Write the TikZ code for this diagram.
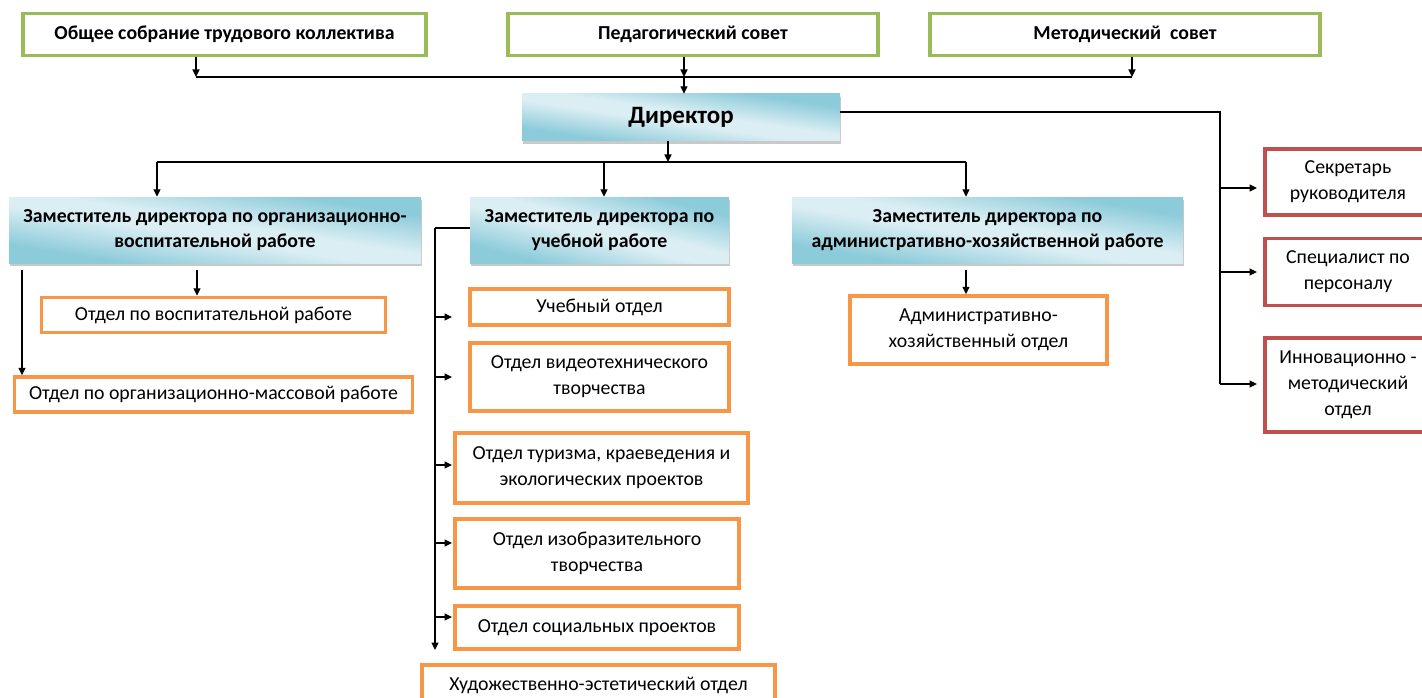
\documentclass[tikz,border=0pt]{standalone}
\usepackage{fontspec}
\setmainfont{Carlito}
\usetikzlibrary{arrows.meta,shadows}
\definecolor{grn}{HTML}{9BBB59}
\definecolor{org}{HTML}{F79646}
\definecolor{rd}{HTML}{C0504D}
\pgfdeclarefunctionalshading{diagshade}{\pgfpoint{-50bp}{-50bp}}{\pgfpoint{50bp}{50bp}}{}{
  add 50 div abs 0.12 sub 0.6 div
  dup abs add 2 div
  dup 1 sub abs neg add 1 add 2 div
  dup dup -0.31 mul 0.86 add exch -0.14 mul 0.935 add 3 -1 roll -0.1 mul 0.955 add
}
\tikzset{
  conn/.style={line width=1.2pt, draw=black},
  arr/.style={conn, -{Triangle[length=7.5pt,width=7pt]}},
  frame/.style={fill=white, line width=3.5pt, align=center, inner sep=0pt},
  gbox/.style={frame, draw=grn, font=\fontsize{19.8}{24}\selectfont\bfseries},
  obox/.style={frame, draw=org, font=\fontsize{19.8}{26}\selectfont},
  rbox/.style={frame, draw=rd, font=\fontsize{19.8}{26}\selectfont},
  dbox/.style={inner sep=0pt, align=center,
    shade, shading=diagshade,
    drop shadow={shadow xshift=1pt, shadow yshift=-3pt, opacity=0.35, fill=black!60},
    font=\fontsize{19.8}{25.5}\selectfont\bfseries},
}
\begin{document}
\begin{tikzpicture}[x=1pt,y=-1pt]
\useasboundingbox (0,0) rectangle (1422,698);
\clip (0,0) rectangle (1422,698);
\fill[white] (0,0) rectangle (1422,698);

% top councils
\node[gbox, minimum width=403, minimum height=42] (g1) at (224.5,34.5) {Общее собрание трудового коллектива};
\node[gbox, minimum width=370, minimum height=42] (g2) at (693,34.5) {Педагогический совет};
\node[gbox, minimum width=390, minimum height=42] (g3) at (1125,34.5) {Методический~ совет};

% director
\node[dbox, minimum width=318, minimum height=47, font=\fontsize{25}{30}\selectfont\bfseries] (dir) at (681,117.5) {Директор};

% deputies
\node[dbox, minimum width=412, minimum height=66] (dep1) at (215,230) {Заместитель директора по организационно-\\воспитательной работе};
\node[dbox, minimum width=259, minimum height=66] (dep2) at (599.5,230) {Заместитель директора по\\учебной работе};
\node[dbox, minimum width=391, minimum height=66] (dep3) at (987.5,230) {Заместитель директора по\\административно-хозяйственной работе};

% left departments
\node[obox, minimum width=344, minimum height=35] (vosp) at (213.5,315) {Отдел по воспитательной работе};
\node[obox, minimum width=398, minimum height=35] (orgm) at (213.5,394.5) {Отдел по организационно-массовой работе};

% middle departments
\node[obox, minimum width=259, minimum height=36] (ucheb) at (599.5,307) {Учебный отдел};
\node[obox, minimum width=259, minimum height=68] (video) at (599.5,377) {Отдел видеотехнического\\творчества};
\node[obox, minimum width=293, minimum height=70] (tur) at (601.5,468) {Отдел туризма, краеведения и\\экологических проектов};
\node[obox, minimum width=284, minimum height=69] (izo) at (597,553.5) {Отдел изобразительного\\творчества};
\node[obox, minimum width=284, minimum height=43] (soc) at (597,627.5) {Отдел социальных проектов};
\node[obox, minimum width=353, minimum height=40] (hud) at (598.5,685) {Художественно-эстетический отдел};

% right department
\node[obox, minimum width=257, minimum height=68] (adm) at (978.5,330) {Административно-\\хозяйственный отдел};

% red boxes
\node[rbox, minimum width=166, minimum height=66] (sec) at (1348,182) {Секретарь\\руководителя};
\node[rbox, minimum width=166, minimum height=67] (spec) at (1348,272) {Специалист по\\персоналу};
\node[rbox, minimum width=166, minimum height=94] (inn) at (1348,385) {Инновационно -\\методический\\отдел};

% councils -> director
\coordinate (b1) at (196,77);
\coordinate (b2) at (684,77);
\coordinate (b3) at (1132,77);
\draw[arr] (g1.south -| b1) -- (b1);
\draw[arr] (g2.south -| b2) -- (b2);
\draw[arr] (g3.south -| b3) -- (b3);
\draw[conn] (b1) -- (b3);
\draw[arr] (b2) -- (dir.north -| b2);

% director -> deputies
\coordinate (c0) at (668,162);
\coordinate (c1) at (157,162);
\coordinate (c2) at (604,162);
\coordinate (c3) at (966,162);
\draw[arr] (dir.south -| c0) -- (c0);
\draw[conn] (c1) -- (c3);
\draw[arr] (c1) -- (dep1.north -| c1);
\draw[arr] (c2) -- (dep2.north -| c2);
\draw[arr] (c3) -- (dep3.north -| c3);

% director -> right staff
\coordinate (r0) at (1220,112);
\coordinate (r3) at (1220,384);
\draw[conn] (dir.east |- r0) -- (r0) -- (r3);
\coordinate (t1) at (1257,188);
\coordinate (t2) at (1257,272);
\coordinate (t3) at (1257,384);
\draw[arr] (r0 |- t1) -- (t1);
\draw[arr] (r0 |- t2) -- (t2);
\draw[arr] (r3) -- (t3);

% left deputy
\coordinate (l1) at (197,270);
\coordinate (l2) at (22,270);
\draw[arr] (l1) -- (vosp.north -| l1);
\draw[arr] (l2) -- (orgm.north -| l2);

% right deputy
\coordinate (a1) at (966,270);
\draw[arr] (a1) -- (adm.north -| a1);

% middle deputy spine
\coordinate (s0) at (435,228);
\coordinate (s9) at (435,650);
\draw[conn] (dep2.west |- s0) -- (s0);
\draw[arr] (s0) -- (s9);
\coordinate (m1) at (452,317);
\coordinate (m2) at (452,377);
\coordinate (m3) at (452,465);
\coordinate (m4) at (452,543);
\coordinate (m5) at (452,617);
\draw[arr] (s0 |- m1) -- (m1);
\draw[arr] (s0 |- m2) -- (m2);
\draw[arr] (s0 |- m3) -- (m3);
\draw[arr] (s0 |- m4) -- (m4);
\draw[arr] (s0 |- m5) -- (m5);
\end{tikzpicture}
\end{document}
